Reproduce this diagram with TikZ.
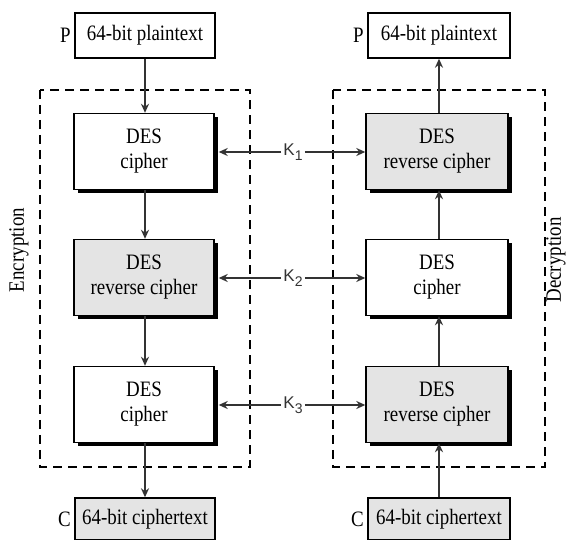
\documentclass[tikz,border=0pt]{standalone}
\usepackage{fontspec}
\setmainfont{Liberation Serif}
\newfontfamily\condserif[FakeStretch=0.86]{Liberation Serif}
\newfontfamily\ksans{Liberation Sans}
\usetikzlibrary{arrows.meta,shadows}
\definecolor{boxgray}{HTML}{E4E4E4}
\definecolor{linegray}{HTML}{333333}
\tikzset{
  txt/.style={font=\condserif\fontsize{22}{25}\selectfont},
  iobox/.style={draw=black, line width=1.4pt, rectangle, minimum width=140pt, minimum height=45pt, inner sep=0pt, txt},
  desbox/.style={draw=black, line width=1.4pt, rectangle, minimum width=140pt, minimum height=76pt, inner sep=0pt, align=center, txt,
     fill=white, drop shadow={shadow xshift=4pt, shadow yshift=-4pt, fill=black, opacity=1}},
  revbox/.style={desbox, fill=boxgray},
  flow/.style={draw=linegray, line width=1.7pt, -{Stealth[length=9pt,width=8pt]}},
  keyarrow/.style={flow},
  dashbox/.style={draw=black, line width=1.8pt, dash pattern=on 9pt off 6pt},
  klabel/.style={font=\ksans\fontsize{17}{19}\selectfont, text=linegray, inner sep=2pt},
  side/.style={font=\condserif\fontsize{22}{24}\selectfont, rotate=90, inner sep=0pt}
}
\begin{document}
\begin{tikzpicture}[x=1pt,y=-1pt]
\useasboundingbox (0,0) rectangle (566,540);
% dashed frames
\draw[dashbox] (40,90) rectangle (250,467);
\draw[dashbox] (333,90) rectangle (545,467);
% left column
\node[iobox] (ptL) at (145,35.5) {64-bit plaintext};
\node[desbox] (eL1) at (144,151.5) {DES\\cipher};
\node[revbox] (eL2) at (144,277.5) {DES\\reverse cipher};
\node[desbox] (eL3) at (144,404.5) {DES\\cipher};
\node[iobox, fill=boxgray, minimum height=42pt] (ctL) at (145,519) {64-bit ciphertext};
\node[txt, anchor=east] (pL) at (ptL.west) {P};
\node[txt, anchor=east] (cL) at (ctL.west) {C};
% right column
\node[iobox, minimum width=142pt] (ptR) at (439,35.5) {64-bit plaintext};
\node[revbox, minimum width=142pt] (dR1) at (437,151.5) {DES\\reverse cipher};
\node[desbox, minimum width=142pt] (dR2) at (437,277.5) {DES\\cipher};
\node[revbox, minimum width=142pt] (dR3) at (437,404.5) {DES\\reverse cipher};
\node[iobox, fill=boxgray, minimum width=142pt, minimum height=42pt] (ctR) at (439,519) {64-bit ciphertext};
\node[txt, anchor=east] (pR) at (ptR.west) {P};
\node[txt, anchor=east] (cR) at (ctR.west) {C};
% side labels
\node[side] (enc) at (19,250) {Encryption};
\node[side] (dec) at (556,260) {Decryption};
% flow arrows left (down)
\draw[flow] (ptL.south -| 145,0) -- (eL1.north -| 145,0);
\draw[flow] (eL1.south -| 145,0) -- (eL2.north -| 145,0);
\draw[flow] (eL2.south -| 145,0) -- (eL3.north -| 145,0);
\draw[flow] (eL3.south -| 145,0) -- (ctL.north -| 145,0);
% flow arrows right (up)
\draw[flow] (ctR.north -| 439,0) -- (dR3.south -| 439,0);
\draw[flow] (dR3.north -| 439,0) -- (dR2.south -| 439,0);
\draw[flow] (dR2.north -| 439,0) -- (dR1.south -| 439,0);
\draw[flow] (dR1.north -| 439,0) -- (ptR.south -| 439,0);
% keys
\node[klabel] (k1) at (293,152) {K\raisebox{-5pt}{\fontsize{14}{15}\selectfont 1}};
\node[klabel] (k2) at (293,278) {K\raisebox{-5pt}{\fontsize{14}{15}\selectfont 2}};
\node[klabel] (k3) at (293,405) {K\raisebox{-5pt}{\fontsize{14}{15}\selectfont 3}};
\draw[keyarrow] (k1.west) -- ([xshift=4pt]eL1.east |- k1.west);
\draw[keyarrow] (k1.east) -- (dR1.west |- k1.east);
\draw[keyarrow] (k2.west) -- ([xshift=4pt]eL2.east |- k2.west);
\draw[keyarrow] (k2.east) -- (dR2.west |- k2.east);
\draw[keyarrow] (k3.west) -- ([xshift=4pt]eL3.east |- k3.west);
\draw[keyarrow] (k3.east) -- (dR3.west |- k3.east);
\end{tikzpicture}
\end{document}
